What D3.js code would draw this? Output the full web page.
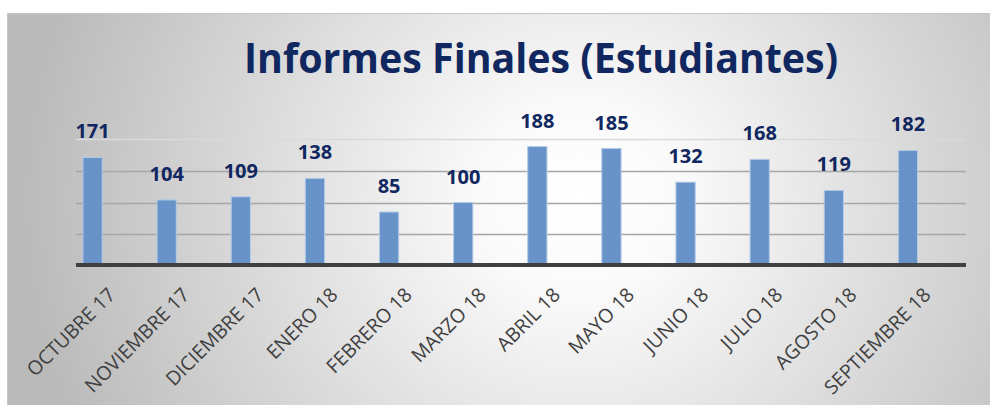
<!DOCTYPE html>
<html>
<head>
<meta charset="utf-8">
<script src="https://cdn.jsdelivr.net/npm/d3@7"></script>
<style>
  html, body { margin: 0; padding: 0; background: #fff; }
  #chart { width: 990px; height: 405px; }
</style>
</head>
<body>
<div id="chart"></div>
<script>
// Data
const months = ['OCTUBRE 17', 'NOVIEMBRE 17', 'DICIEMBRE 17', 'ENERO 18', 'FEBRERO 18', 'MARZO 18',
  'ABRIL 18', 'MAYO 18', 'JUNIO 18', 'JULIO 18', 'AGOSTO 18', 'SEPTIEMBRE 18'];
const informes = [171, 104, 109, 138, 85, 100, 188, 185, 132, 168, 119, 182];
const gridTicks = [50, 100, 150, 200];
const title = 'Informes Finales (Estudiantes)';

(function () {
  const width = 990;
  const height = 405;
  const svg = d3.select('#chart').append('svg')
    .attr('width', width)
    .attr('height', height);

  // Background gradient (white centre, grey edges)
  const defs = svg.append('defs');
  const grad = defs.append('radialGradient')
    .attr('id', 'bg')
    .attr('gradientUnits', 'userSpaceOnUse')
    .attr('cx', 580).attr('cy', 200).attr('r', 560)
    .attr('gradientTransform', 'translate(580,200) scale(1,0.95) translate(-580,-200)');
  grad.append('stop').attr('offset', '0%').attr('stop-color', '#ffffff');
  grad.append('stop').attr('offset', '18%').attr('stop-color', '#fafafa');
  grad.append('stop').attr('offset', '100%').attr('stop-color', '#bababa');

  svg.append('rect')
    .attr('x', 7).attr('y', 13)
    .attr('width', width - 7).attr('height', height - 13)
    .attr('fill', 'url(#bg)');
  svg.append('line')
    .attr('x1', 7).attr('x2', width).attr('y1', 13.5).attr('y2', 13.5)
    .attr('stroke', '#c4c4c4').attr('stroke-width', 1);
  svg.append('line')
    .attr('x1', 7.5).attr('x2', 7.5).attr('y1', 13).attr('y2', height)
    .attr('stroke', '#c8c8c8').attr('stroke-width', 1);

  // Scales
  const gridLeft = 76, gridRight = 966;
  const x = d3.scaleBand()
    .domain(months)
    .range([55.5, 945])
    .paddingInner(0.74)
    .paddingOuter(0.37);
  const y = d3.scaleLinear().domain([0, 200]).range([266, 139]);

  // Gridlines
  svg.append('g').selectAll('line')
    .data(gridTicks)
    .join('line')
    .attr('x1', gridLeft).attr('x2', gridRight)
    .attr('y1', d => Math.round(y(d)) + 0.5)
    .attr('y2', d => Math.round(y(d)) + 0.5)
    .attr('stroke', d => d === 200 ? '#d9d9d9' : '#a6a6a6')
    .attr('stroke-width', 1.5);

  // Bars
  svg.append('g').selectAll('rect')
    .data(informes)
    .join('rect')
    .attr('x', (d, i) => x(months[i]))
    .attr('y', d => y(d))
    .attr('width', x.bandwidth())
    .attr('height', d => y(0) - y(d))
    .attr('fill', '#6893c8')
    .attr('stroke', '#b3cbe8')
    .attr('stroke-width', 1);

  // Baseline
  svg.append('line')
    .attr('x1', gridLeft).attr('x2', gridRight)
    .attr('y1', y(0) - 1).attr('y2', y(0) - 1)
    .attr('stroke', '#404040')
    .attr('stroke-width', 4);

  // Value labels
  svg.append('g').selectAll('text')
    .data(informes)
    .join('text')
    .attr('x', (d, i) => x(months[i]) + x.bandwidth() / 2)
    .attr('y', d => y(d) - 19)
    .attr('text-anchor', 'middle')
    .attr('font-family', '"Open Sans", sans-serif')
    .attr('font-weight', 700)
    .attr('font-size', 20)
    .attr('fill', '#10275f')
    .text(d => d);

  // Category labels, rotated
  svg.append('g').selectAll('text')
    .data(months)
    .join('text')
    .attr('transform', d => `translate(${x(d) + x.bandwidth() / 2 + 24},${296}) rotate(-45)`)
    .attr('text-anchor', 'end')
    .attr('font-family', '"Open Sans", sans-serif')
    .attr('font-size', 19.5)
    .attr('fill', '#404040')
    .text(d => d);

  // Title
  svg.append('text')
    .attr('x', 541)
    .attr('y', 73)
    .attr('text-anchor', 'middle')
    .attr('font-family', '"Open Sans", sans-serif')
    .attr('font-weight', 700)
    .attr('font-size', 41)
    .attr('fill', '#10275f')
    .attr('textLength', 594)
    .attr('lengthAdjust', 'spacingAndGlyphs')
    .text(title);
})();
</script>
</body>
</html>
